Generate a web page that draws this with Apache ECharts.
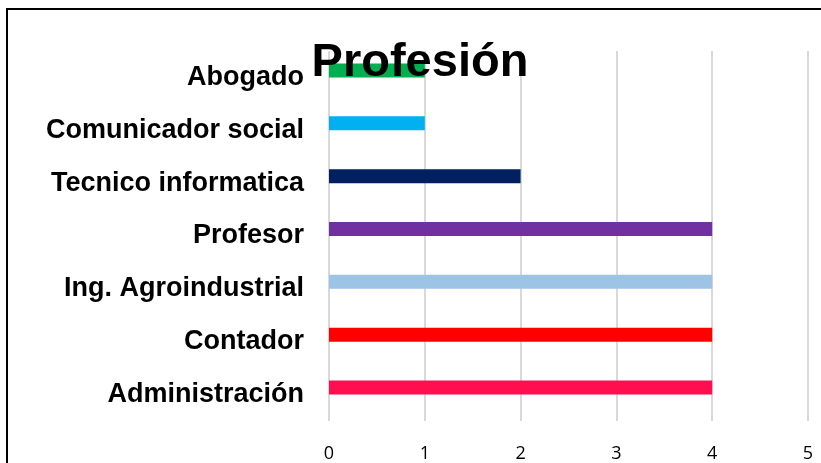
<!DOCTYPE html>
<html>
<head>
<meta charset="utf-8">
<script src="https://cdn.jsdelivr.net/npm/echarts@6/dist/echarts.min.js"></script>
<style>
  html, body { margin: 0; padding: 0; background: #fff; }
  #chart { width: 821px; height: 463px; }
</style>
</head>
<body>
<div id="chart"></div>
<script>
// categorias de arriba hacia abajo
var categories = ['Abogado', 'Comunicador social', 'Tecnico informatica', 'Profesor',
  'Ing. Agroindustrial', 'Contador', 'Administración'];
var values = [1, 1, 2, 4, 4, 4, 4];
var xTicks = [0, 1, 2, 3, 4, 5];
var barColors = ['#00B050', '#00B0F0', '#002060', '#7030A0', '#9DC3E6', '#FF0000', '#FF0F50'];

var chart = echarts.init(document.getElementById('chart'));

chart.setOption({
  animation: false,
  title: {
    text: 'Profesión',
    left: 415,
    top: 35,
    textAlign: 'center',
    textStyle: { fontFamily: 'Liberation Sans', fontWeight: 'bold', fontSize: 47, color: '#000' }
  },
  graphic: [{
    type: 'rect',
    shape: { x: 7, y: 9, width: 900, height: 500 },
    style: { fill: 'none', stroke: '#000', lineWidth: 2 },
    z: 100
  }],
  grid: [
    // rejilla y etiquetas
    { left: 329, right: 13, top: 51, bottom: 42 },
    // barras (desplazadas hacia arriba como en el original)
    { left: 329, right: 13, top: 44, bottom: 49 }
  ],
  xAxis: [
    {
      gridIndex: 0, type: 'value', min: xTicks[0], max: xTicks[xTicks.length - 1], interval: 1,
      axisLine: { show: false }, axisTick: { show: false },
      axisLabel: { margin: 24, fontSize: 18, color: '#000', fontFamily: 'Open Sans' },
      splitLine: { lineStyle: { color: '#D9D9D9', width: 2 } }
    },
    {
      gridIndex: 1, type: 'value', min: 0, max: 5, show: false
    }
  ],
  yAxis: [
    {
      gridIndex: 0, type: 'category', data: categories, inverse: true,
      axisLine: { show: false }, axisTick: { show: false },
      axisLabel: {
        margin: 25, fontSize: 27, fontWeight: 'bold', color: '#000', fontFamily: 'Liberation Sans',
        padding: [9, 0, 0, 0]
      }
    },
    {
      gridIndex: 1, type: 'category', data: categories, inverse: true, show: false
    }
  ],
  series: [{
    type: 'bar',
    xAxisIndex: 1,
    yAxisIndex: 1,
    barWidth: 14,
    data: values.map(function (v, i) {
      return { value: v, itemStyle: { color: barColors[i] } };
    })
  }]
});
</script>
</body>
</html>
